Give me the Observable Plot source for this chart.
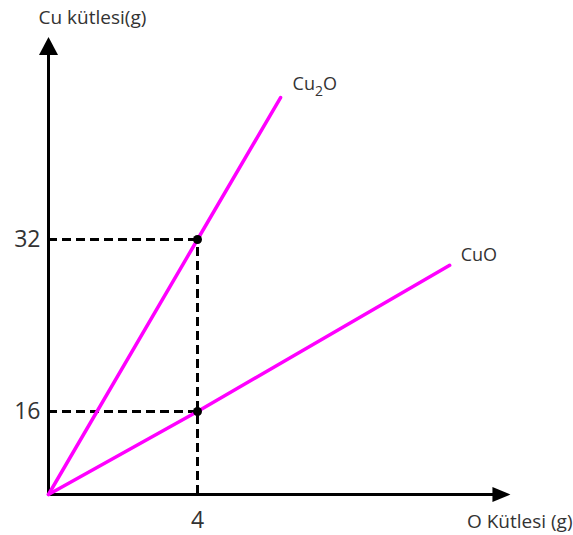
<!DOCTYPE html>
<html>
<head>
<meta charset="utf-8">
<script src="https://cdn.jsdelivr.net/npm/d3@7"></script>
<script src="https://cdn.jsdelivr.net/npm/@observablehq/plot@0.6"></script>
<style>
  html, body { margin: 0; padding: 0; background: #fff; }
  #chart svg { display: block; }
</style>
</head>
<body>
<div id="chart"></div>
<script>
// ---- data (schematic, not to scale) ----
const seriesNames = ["Cu2O", "CuO"];
const cu2oX = [0, 4, 6.23];      // O mass (g)
const cu2oY = [0, 32, 45.2];     // Cu mass (g)
const cuoX  = [0, 4, 10.77];
const cuoY  = [0, 16, 29.6];
const xTicks = [4];
const yTicks = [16, 32];
const markedX = [4, 4];
const markedY = [32, 16];
const xAxisEnd = 12.16;
const yAxisEnd = 50;
const xTitle = "O Kütlesi (g)";
const yTitle = "Cu kütlesi(g)";

// ---- build tables ----
const lines = [
  ...cu2oX.map((x, i) => ({series: seriesNames[0], x, y: cu2oY[i]})),
  ...cuoX.map((x, i) => ({series: seriesNames[1], x, y: cuoY[i]}))
];
const ends = [
  {label: seriesNames[0], x: cu2oX[cu2oX.length - 1], y: cu2oY[cu2oY.length - 1]},
  {label: seriesNames[1], x: cuoX[cuoX.length - 1], y: cuoY[cuoY.length - 1]}
];
const marked = markedX.map((x, i) => ({x, y: markedY[i]}));

const arrowUp = {draw(ctx) { ctx.moveTo(0, -9); ctx.lineTo(9.5, 9); ctx.lineTo(-9.5, 9); ctx.closePath(); }};
const arrowRight = {draw(ctx) { ctx.moveTo(9, 0); ctx.lineTo(-9, -7.5); ctx.lineTo(-9, 7.5); ctx.closePath(); }};

const chart = Plot.plot({
  width: 573,
  height: 535,
  marginLeft: 48,
  marginBottom: 41,
  marginTop: 0,
  marginRight: 0,
  style: {fontFamily: "'Open Sans', sans-serif", fontSize: "23px", color: "#333", background: "#fff"},
  x: {type: "linear", domain: [0, 4], range: [48, 197], ticks: xTicks, tickFormat: d3.format("d"), tickSize: 0, tickPadding: 17, label: null},
  y: {type: "linear", domain: [0, 16, 32], range: [494, 411, 239], ticks: yTicks, tickFormat: d3.format("d"), tickSize: 0, tickPadding: 8, label: null},
  marks: [
    // dashed guides
    Plot.ruleY(marked, {y: "y", x1: 0, x2: "x", stroke: "black", strokeWidth: 3, strokeDasharray: "9,5"}),
    Plot.ruleX([marked[0]], {x: "x", y1: 0, y2: "y", stroke: "black", strokeWidth: 3, strokeDasharray: "9,5"}),
    // axes lines
    Plot.ruleX([0], {y1: 0, y2: yAxisEnd, stroke: "black", strokeWidth: 3}),
    Plot.ruleY([0], {x1: 0, x2: xAxisEnd, stroke: "black", strokeWidth: 3}),
    Plot.dot([{x: 0, y: yAxisEnd}], {x: "x", y: "y", symbol: arrowUp, fill: "black", stroke: "none"}),
    Plot.dot([{x: xAxisEnd, y: 0}], {x: "x", y: "y", symbol: arrowRight, fill: "black", stroke: "none"}),
    // series lines
    Plot.line(lines, {x: "x", y: "y", z: "series", stroke: "#ff00ff", strokeWidth: 3.5}),
    Plot.dot(marked, {x: "x", y: "y", r: 4.5, fill: "black", stroke: "none"}),
    // labels
    Plot.text(ends.slice(0, 1), {x: "x", y: "y", text: "label", textAnchor: "start", dx: 12, dy: -13, fontSize: 18, fill: "#333", className: "lbl-cu2o"}),
    Plot.text(ends.slice(1), {x: "x", y: "y", text: "label", textAnchor: "start", dx: 11, dy: -10, fontSize: 18, fill: "#333"}),
    Plot.text([yTitle], {frameAnchor: "top-left", textAnchor: "start", lineAnchor: "top", dx: -10, dy: 10, fontSize: 19, fill: "#333"}),
    Plot.text([xTitle], {frameAnchor: "bottom-right", textAnchor: "end", lineAnchor: "middle", dx: -1, dy: 27, fontSize: 19, fill: "#333"})
  ]
});

// render the "2" of Cu2O as a subscript
d3.select(chart).selectAll(".lbl-cu2o text").each(function() {
  const t = d3.select(this);
  const s = t.text();
  const m = s.match(/^(\D+)(\d+)(.*)$/);
  if (!m) return;
  t.text(null);
  t.append("tspan").text(m[1]);
  t.append("tspan").attr("dy", 6).attr("font-size", 14).text(m[2]);
  t.append("tspan").attr("dy", -6).text(m[3]);
});

document.getElementById("chart").appendChild(chart);
</script>
</body>
</html>
